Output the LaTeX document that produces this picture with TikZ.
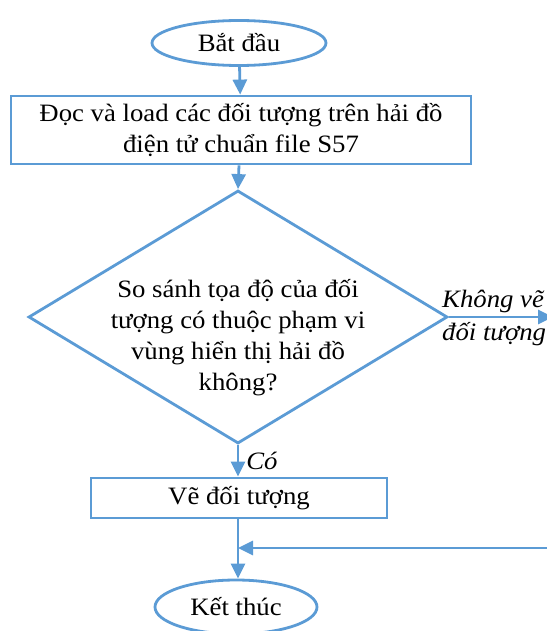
\documentclass[tikz,border=0pt]{standalone}
\usepackage{fontspec}
\setmainfont{Liberation Serif}[FakeStretch=1.07]
\usetikzlibrary{shapes.geometric,arrows.meta}
\definecolor{flowblue}{HTML}{5B9BD5}
\begin{document}
\begin{tikzpicture}[x=1pt,y=-1pt,
  every node/.style={font=\fontsize{25}{31}\selectfont},
  line/.style={draw=flowblue,line width=2.8pt},
  arrow/.style={line,-{Triangle[length=15pt,width=14pt]}},
  terminal/.style={ellipse,line,fill=white,inner sep=0pt},
  procbox/.style={rectangle,line,fill=white,inner sep=0pt,align=center},
  label/.style={font=\fontsize{25}{31}\selectfont\itshape,inner sep=0pt}]
\useasboundingbox (0,0) rectangle (546,631);

% nodes
\node[terminal,minimum width=174pt,minimum height=45pt] (start) at (239,43) {Bắt đầu};
\node[procbox,minimum width=460pt,minimum height=68pt] (load) at (241,130)
  {Đọc và load các đối tượng trên hải đồ\\điện tử chuẩn file S57};
\node[diamond,line,aspect=1.66,minimum width=419pt,minimum height=253pt,inner sep=0pt] (cmp) at (238,317) {};
\node[align=center,inner sep=0pt] (cmptext) at (238,338)
  {So sánh tọa độ của đối\\tượng có thuộc phạm vi\\vùng hiển thị hải đồ\\không?};
\node[procbox,minimum width=296pt,minimum height=40pt] (draw) at (239,498) {Vẽ đối tượng};
\node[terminal,minimum width=162pt,minimum height=54pt] (end) at (236,607) {Kết thúc};

\coordinate (skip) at (553,317);
\coordinate (back) at (560,548);
\coordinate (join) at (238,548);

% connectors
\draw[arrow] (start) -- (load);
\draw[arrow] (load.south -| start) -- (cmp.north);
\draw[arrow] (cmp.south) -- (draw.north -| cmp.south)
  node[label,anchor=west,pos=0.5,xshift=7pt] (yes) {Có};
\draw[arrow] (cmp.east) -- (skip);
\node[label,anchor=west] (no1) at (442,301) {Không vẽ};
\node[label,anchor=west] (no2) at (442,334) {đối tượng};
\draw[arrow] (draw.south -| join) -- (end.north -| join);
\draw[arrow] (back) -- (join);
\end{tikzpicture}
\end{document}
